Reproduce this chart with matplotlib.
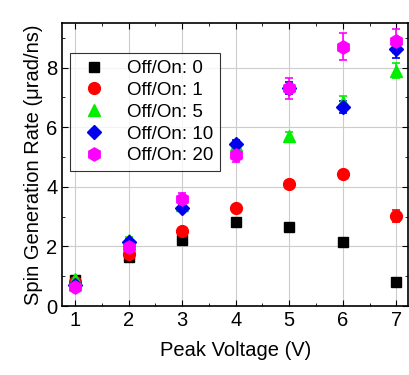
import numpy as np
import matplotlib.pyplot as plt
from matplotlib.ticker import MultipleLocator

plt.rcParams['font.family'] = ['Liberation Sans', 'DejaVu Sans']

voltage = [1, 2, 3, 4, 5, 6, 7]
labels = ['Off/On: 0', 'Off/On: 1', 'Off/On: 5', 'Off/On: 10', 'Off/On: 20']

rate_0 = [0.87, 1.63, 2.21, 2.83, 2.66, 2.16, 0.79]
err_0 = [0.05, 0.05, 0.05, 0.05, 0.05, 0.05, 0.05]
rate_1 = [0.80, 1.74, 2.52, 3.28, 4.08, 4.43, 3.03]
err_1 = [0.05, 0.08, 0.08, 0.08, 0.08, 0.08, 0.2]
rate_5 = [0.89, 2.20, 3.40, 5.40, 5.70, 6.86, 7.89]
err_5 = [0.08, 0.1, 0.1, 0.15, 0.15, 0.2, 0.25]
rate_10 = [0.70, 2.16, 3.28, 5.42, 7.33, 6.69, 8.62]
err_10 = [0.08, 0.1, 0.1, 0.15, 0.2, 0.2, 0.3]
rate_20 = [0.63, 1.99, 3.59, 5.07, 7.30, 8.70, 8.90]
err_20 = [0.08, 0.15, 0.2, 0.25, 0.35, 0.45, 0.4]

series = [
    (rate_0, err_0, 's', 'black'),
    (rate_1, err_1, 'o', 'red'),
    (rate_5, err_5, '^', '#00ee00'),
    (rate_10, err_10, 'D', '#0000ee'),
    (rate_20, err_20, 'h', '#ff00ff'),
]

fig = plt.figure(figsize=(4.09, 3.75), dpi=100)
ax = fig.add_axes([0.152, 0.184, 0.846, 0.755])

sizes = {'s': 7.5, 'o': 8.5, '^': 8.5, 'D': 7.5, 'h': 9.5}
handles = []
for (y, e, m, c), lab in zip(series, labels):
    cont = ax.errorbar(voltage, y, yerr=e, fmt=m, color=c, ms=sizes[m], mec=c,
                       ecolor=c, elinewidth=1.2, capsize=3, capthick=1.2,
                       label=lab, zorder=3)
    handles.append(cont[0])

ax.set_xlim(0.76, 7.22)
ax.set_ylim(0, 9.5)
ax.xaxis.set_major_locator(MultipleLocator(1))
ax.xaxis.set_minor_locator(MultipleLocator(0.5))
ax.yaxis.set_major_locator(MultipleLocator(2))
ax.yaxis.set_minor_locator(MultipleLocator(1))
ax.tick_params(which='both', direction='in', top=True, right=True, labelsize=14.5)
ax.tick_params(which='major', length=4)
ax.tick_params(which='minor', length=2.5)
ax.grid(True, which='major', color='#cccccc', lw=0.8, zorder=0)
for s in ax.spines.values():
    s.set_linewidth(1.2)

ax.set_xlabel('Peak Voltage (V)', fontsize=14.5, labelpad=8)
ax.set_ylabel('Spin Generation Rate (\u03bcrad/ns)', fontsize=14.5, labelpad=2)

leg = ax.legend(handles, labels, loc='upper left', bbox_to_anchor=(-0.005, 0.925),
                fontsize=13.5, frameon=True, fancybox=False, edgecolor='black',
                handletextpad=0.8, borderpad=0.35, labelspacing=0.25,
                handlelength=1.9)
leg.get_frame().set_linewidth(0.8)

fig.savefig('out.png', dpi=100)
